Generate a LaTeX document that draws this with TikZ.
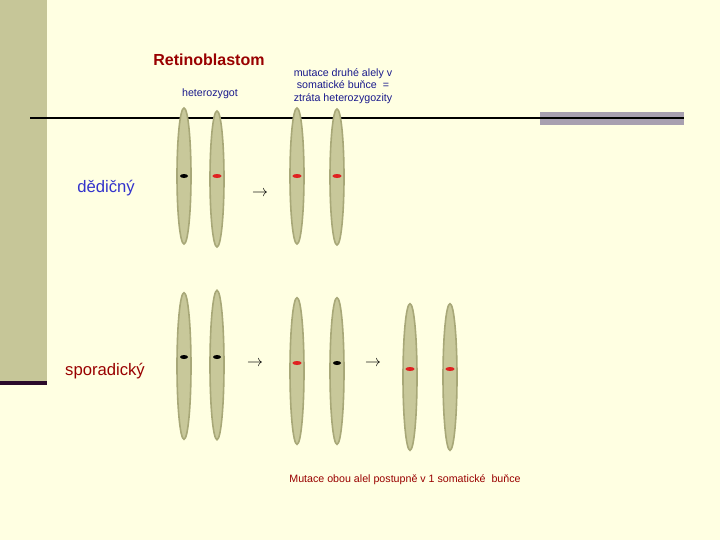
\documentclass[tikz,border=0pt]{standalone}
\usepackage{fontspec}
\setmainfont{Liberation Sans}
\definecolor{bg}{HTML}{FFFFE2}
\definecolor{olive}{HTML}{C6C698}
\definecolor{chromf}{HTML}{C8C89A}
\definecolor{chromd}{HTML}{A8A878}
\definecolor{dred}{HTML}{990000}
\definecolor{navy}{HTML}{1A1A8C}
\definecolor{bblue}{HTML}{3333CC}
\definecolor{barg}{HTML}{A8A0B0}
\definecolor{dpurp}{HTML}{2A0A2A}
\definecolor{mred}{HTML}{E02020}
\begin{document}
\begin{tikzpicture}[x=0.75pt,y=-0.75pt,
  chrom/.style={ellipse,draw=chromd,fill=chromf,line width=1.2pt,minimum width=10.5pt,minimum height=102pt,inner sep=0pt},
  redm/.style={fill=mred,ellipse,minimum width=7pt,minimum height=3pt,inner sep=0pt},
  blkm/.style={fill=black,ellipse,minimum width=6pt,minimum height=3pt,inner sep=0pt},
  small/.style={text=navy,font=\fontsize{8}{9.5}\selectfont,align=center},
  arr/.style={font=\fontsize{13}{13}\selectfont}]
\usetikzlibrary{shapes.geometric}
\fill[bg] (0,0) rectangle (720,540);
\useasboundingbox (0,0) rectangle (720,540);
\fill[olive] (0,0) rectangle (47,383);
\fill[dpurp] (0,381) rectangle (47,385);
\fill[barg] (540,112) rectangle (684,125);
\coordinate (l1) at (30,118);
\coordinate (l2) at (684,118);
\draw[line width=1.3pt] (l1) -- (l2);
\node[text=dred,font=\bfseries\fontsize{12}{12}\selectfont] (title) at (209,60) {Retinoblastom};
\node[small] (het) at (210,94) {heterozygot};
\node[small] (mut) at (343,86) {mutace druhé alely v\\ somatické buňce \ =\\ ztráta heterozygozity};
\node[text=bblue,font=\fontsize{12.5}{12.5}\selectfont] (ded) at (106,188) {dědičný};
\node[text=dred,font=\fontsize{12.5}{12.5}\selectfont] (spo) at (105,371) {sporadický};
\node[text=dred,font=\fontsize{8}{9}\selectfont] (bot) at (405,480) {Mutace obou alel postupně v 1 somatické \ buňce};
% row 1
\node[chrom] (a1) at (184,176) {}; \node[blkm] (ma1) at (184,176) {};
\node[chrom] (a2) at (217,179) {}; \node[redm] (ma2) at (217,176) {};
\node[chrom] (a3) at (297,176) {}; \node[redm] (ma3) at (297,176) {};
\node[chrom] (a4) at (337,177) {}; \node[redm] (ma4) at (337,176) {};
\node[arr] (r1) at (260,194) {$\rightarrow$};
% row 2
\node[chrom,minimum height=110pt] (b1) at (184,366) {}; \node[blkm] (mb1) at (184,357) {};
\node[chrom,minimum height=112pt] (b2) at (217,365) {}; \node[blkm] (mb2) at (217,357) {};
\node[chrom,minimum height=110pt] (b3) at (297,371) {}; \node[redm] (mb3) at (297,363) {};
\node[chrom,minimum height=110pt] (b4) at (337,371) {}; \node[blkm] (mb4) at (337,363) {};
\node[chrom,minimum height=110pt] (b5) at (410,377) {}; \node[redm] (mb5) at (410,369) {};
\node[chrom,minimum height=110pt] (b6) at (450,377) {}; \node[redm] (mb6) at (450,369) {};
\node[arr] (r2) at (255,364) {$\rightarrow$};
\node[arr] (r3) at (373,364) {$\rightarrow$};
\end{tikzpicture}
\end{document}
